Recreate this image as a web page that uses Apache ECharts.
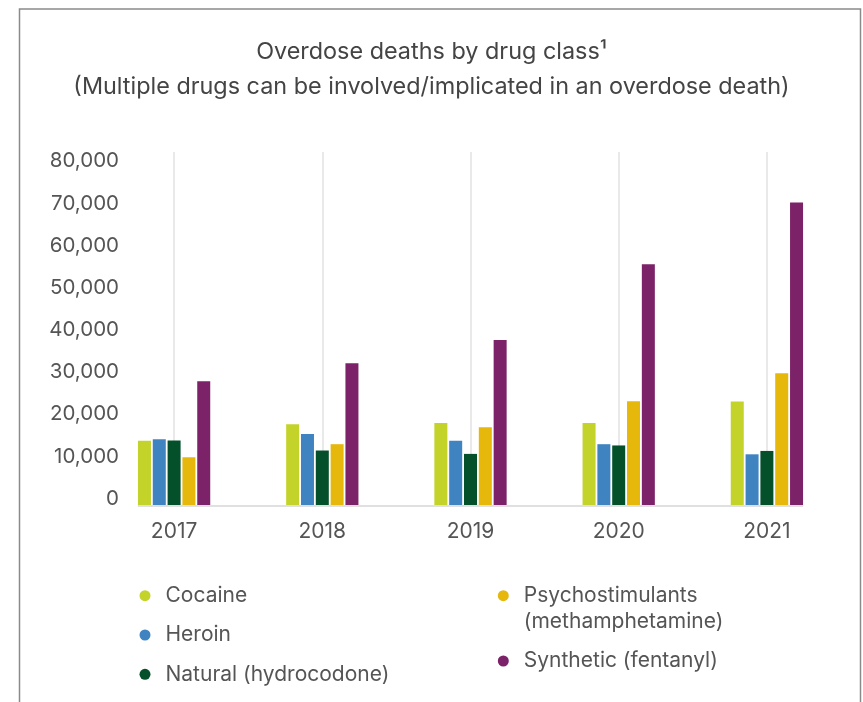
<!DOCTYPE html>
<html>
<head>
<meta charset="utf-8">
<script src="https://cdn.jsdelivr.net/npm/echarts@6/dist/echarts.min.js"></script>
<style>
  html, body { margin: 0; padding: 0; background: #fff; }
  #chart { width: 863px; height: 702px; }
</style>
</head>
<body>
<div id="chart"></div>
<script>
// Overdose deaths per year, by drug class
const years = ['2017', '2018', '2019', '2020', '2021'];
const cocaine = [13700, 17600, 17900, 17900, 23000];
const heroin = [14100, 15300, 13700, 12900, 10500];
const natural = [13800, 11400, 10600, 12600, 11300];
const psychostimulants = [9800, 12900, 16900, 23100, 29700];
const synthetic = [27800, 32100, 37600, 55600, 70200];
const yTicks = [0, 10000, 20000, 30000, 40000, 50000, 60000, 70000, 80000];

const names = [
  'Cocaine',
  'Heroin',
  'Natural (hydrocodone)',
  'Psychostimulants\n(methamphetamine)',
  'Synthetic (fentanyl)'
];
const colors = ['#c3d32a', '#3f84c1', '#03502a', '#e6b80c', '#7c2268'];
const values = [cocaine, heroin, natural, psychostimulants, synthetic];

const FONT = 'Inter, "Liberation Sans", Arial, sans-serif';
const TEXT = '#555';

const chart = echarts.init(document.getElementById('chart'), null, { renderer: 'canvas' });

const series = names.map((name, i) => ({
  name: name,
  type: 'bar',
  data: values[i],
  barWidth: 13,
  barGap: '14%',
  itemStyle: { color: colors[i] },
  emphasis: { disabled: true }
}));

const legendText = {
  fontFamily: FONT,
  fontSize: 21,
  color: TEXT,
  lineHeight: 26,
  padding: [0, 0, 0, 10]
};

const legendBase = {
  orient: 'vertical',
  padding: 0,
  itemGap: 13.3,
  itemWidth: 11,
  itemHeight: 11,
  icon: 'circle',
  selectedMode: false,
  textStyle: legendText,
  // legend text is centred on its marker; a leading blank line keeps the
  // first line of a two-line entry level with the marker
  formatter: name => (name.indexOf('\n') >= 0 ? '\n' + name : name)
};

chart.setOption({
  backgroundColor: '#fff',
  animation: false,
  color: colors,
  title: {
    text: 'Overdose deaths by drug class¹\n(Multiple drugs can be involved/implicated in an overdose death)',
    left: 'center',
    top: 34,
    padding: 0,
    textStyle: {
      fontFamily: FONT,
      fontSize: 23.4,
      fontWeight: 'normal',
      lineHeight: 35,
      color: '#444'
    }
  },
  grid: { left: 100, right: 22, top: 152, bottom: 196 },
  xAxis: {
    type: 'category',
    data: years,
    axisLine: { show: false },
    axisTick: { show: false },
    splitLine: {
      show: true,
      alignWithLabel: true,
      lineStyle: { color: '#e2e2e2', width: 1.5 }
    },
    axisLabel: {
      margin: 15,
      fontFamily: FONT,
      fontSize: 21,
      color: TEXT
    }
  },
  yAxis: {
    type: 'value',
    min: -1760,
    max: 82200,
    startValue: -1760,
    axisLine: { show: false },
    axisTick: { show: false },
    splitLine: { show: false },
    axisLabel: {
      customValues: yTicks,
      margin: -19,
      fontFamily: FONT,
      fontSize: 20.5,
      color: TEXT,
      formatter: v => v.toLocaleString('en-US')
    }
  },
  legend: [
    Object.assign({}, legendBase, {
      left: 139.5,
      top: 582.7,
      data: names.slice(0, 3)
    }),
    Object.assign({}, legendBase, {
      left: 497.8,
      top: 556.7,
      data: names.slice(3)
    })
  ],
  series: series
});

// Baseline under the bars, spanning from the first bar's left edge to the last bar's right edge
const model = chart.getModel();
const first = model.getSeriesByIndex(0).getData().getItemLayout(0);
const last = model.getSeriesByIndex(names.length - 1).getData().getItemLayout(years.length - 1);
const baseY = first.y;

chart.setOption({
  graphic: [
    {
      type: 'line',
      silent: true,
      z: 10,
      shape: { x1: first.x, y1: baseY, x2: last.x + last.width, y2: baseY },
      style: { stroke: '#e0e0e0', lineWidth: 2 }
    },
    {
      type: 'rect',
      silent: true,
      shape: { x: 19.5, y: 9, width: 841, height: 760 },
      style: { fill: 'none', stroke: '#8a8a8a', lineWidth: 1.5 }
    }
  ]
});
</script>
</body>
</html>
